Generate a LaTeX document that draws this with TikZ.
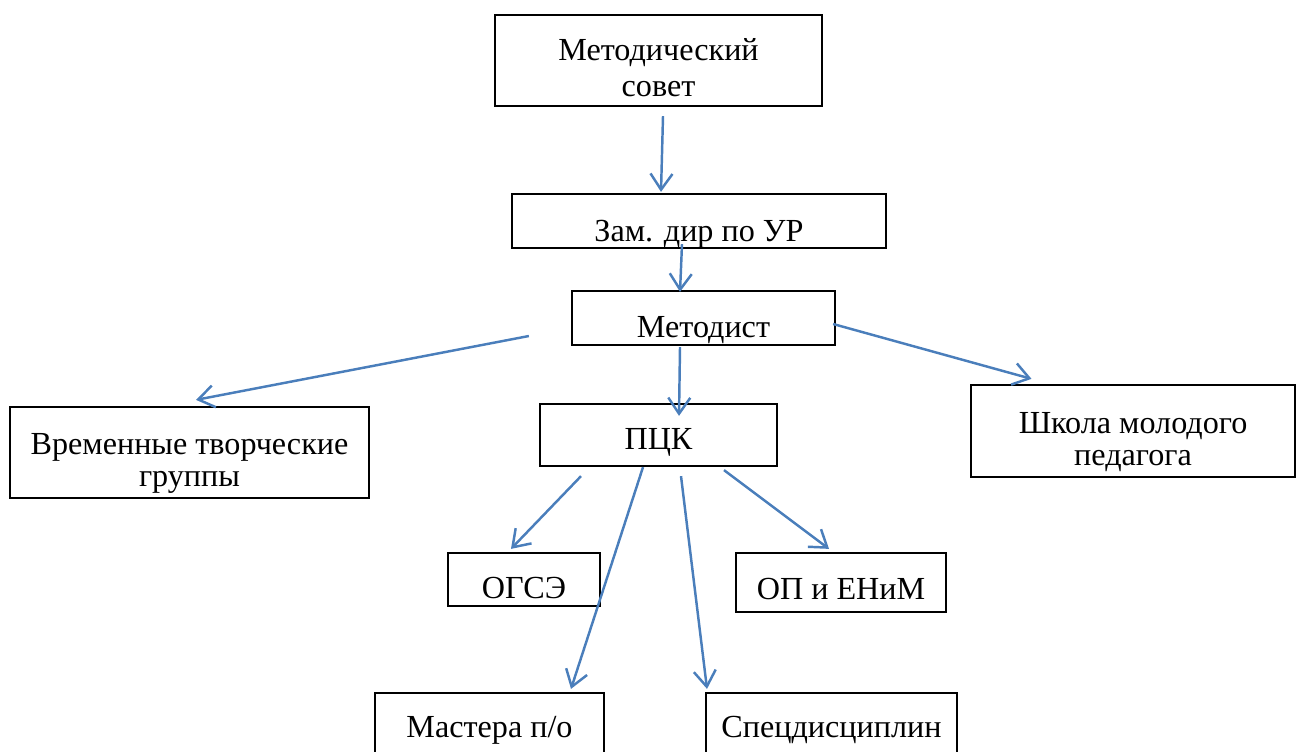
\documentclass[tikz,border=0pt]{standalone}
\usepackage{fontspec}
\setmainfont{Liberation Serif}
\usetikzlibrary{arrows.meta,calc}
\definecolor{arrblue}{RGB}{74,126,187}

\begin{document}
\begin{tikzpicture}[x=0.02cm,y=-0.02cm,
  box/.style={draw,line width=1.3pt,rectangle,align=center,inner sep=0pt,text depth=0pt,
    font=\fontsize{18.3}{18.1}\selectfont},
  arr/.style={arrblue,line width=1.4pt,-{Straight Barb[length=0.32cm,width=0.44cm]}}]

\useasboundingbox (0,0) rectangle (1297,751);
\clip (0,0) rectangle (1297,751);

\node[box,minimum width=6.54cm,minimum height=1.82cm,text height=1.46cm,
  font=\fontsize{18.3}{20.7}\selectfont] (sovet) at (658.5,60.5) {Методический\\совет};
\node[box,minimum width=7.48cm,minimum height=1.08cm,text height=0.8cm] (zam) at (699,221) {Зам. дир по УР};
\node[box,minimum width=5.26cm,minimum height=1.08cm,text height=0.78cm] (metodist) at (703.5,318) {Методист};
\node[box,minimum width=4.74cm,minimum height=1.24cm,text height=0.58cm] (pck) at (658.5,435) {ПЦК};
\node[box,minimum width=7.18cm,minimum height=1.82cm,text height=1.36cm] (vtg) at (189.5,452.5) {Временные творческие\\группы};
\node[box,minimum width=6.48cm,minimum height=1.84cm,text height=1.36cm] (shkola) at (1133,431) {Школа молодого\\педагога};
\node[box,minimum width=3.04cm,minimum height=1.06cm,text height=0.76cm] (ogse) at (524,579.5) {ОГСЭ};
\node[box,minimum width=4.20cm,minimum height=1.18cm,text height=0.66cm] (openim) at (841,582.5) {ОП и ЕНиМ};
\node[box,minimum width=4.58cm,minimum height=1.48cm,text height=0.28cm] (mastera) at (489.5,730) {Мастера п/о};
\node[box,minimum width=5.02cm,minimum height=1.48cm,text height=0.28cm] (spec) at (831.5,730) {Спецдисциплин};

\draw[arr] ([shift={(4.5,9)}]sovet.south) -- ([shift={(-38,-1)}]zam.north);
\draw[arr] ([shift={(-17,-5)}]zam.south) -- ([shift={(-23.5,2)}]metodist.north);
\draw[arr] ([shift={(-23.5,1)}]metodist.south) -- ([shift={(20.5,13)}]pck.north);
\draw[arr] ([shift={(-42,18)}]metodist.west) -- ([shift={(6.5,-6)}]vtg.north);
\draw[arr] ([shift={(-3,6)}]metodist.east) -- ([shift={(-101.5,-5)}]shkola.north);

\draw[arr] ([shift={(-77.5,9)}]pck.south) -- ([shift={(-13,-3)}]ogse.north);
\draw[arr] ([shift={(-15.5,0)}]pck.south) -- ([shift={(81.5,-3)}]mastera.north);
\draw[arr] ([shift={(22.5,9)}]pck.south) -- ([shift={(-124.5,-3)}]spec.north);
\draw[arr] ([shift={(65.5,3)}]pck.south) -- ([shift={(-12,-3)}]openim.north);

\end{tikzpicture}
\end{document}
